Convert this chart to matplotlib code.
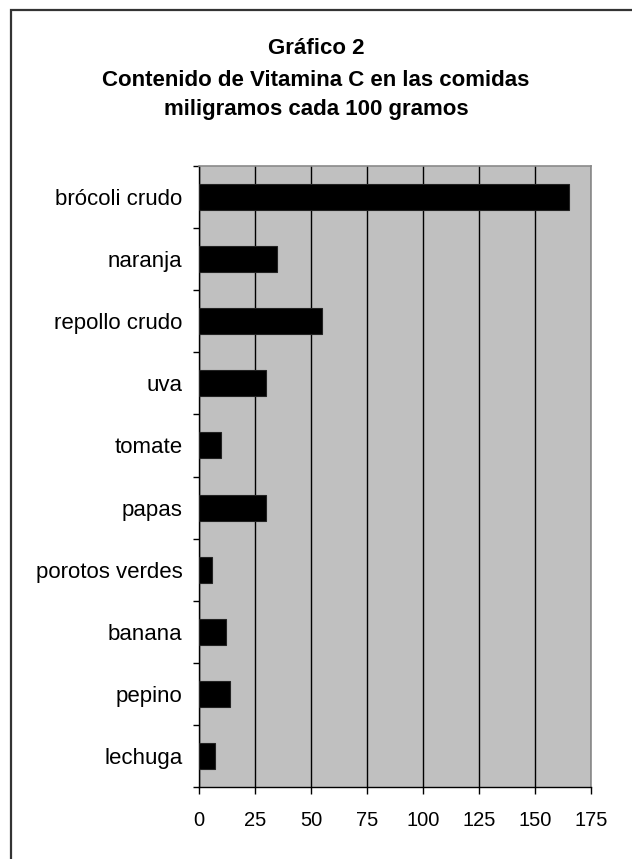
import matplotlib
matplotlib.use("Agg")
import matplotlib.pyplot as plt
from matplotlib.patches import Rectangle

# vitamina C (mg cada 100 g), de arriba hacia abajo
comidas = ["brócoli crudo", "naranja", "repollo crudo", "uva", "tomate",
           "papas", "porotos verdes", "banana", "pepino", "lechuga"]
vitamina_c = [165, 35, 55, 30, 10, 30, 6, 12, 14, 7]
ticks_x = [0, 25, 50, 75, 100, 125, 150, 175]

plt.rcParams['font.family'] = ['Liberation Sans', 'DejaVu Sans']

fig = plt.figure(figsize=(6.32, 8.59), dpi=100)
fig.patch.set_facecolor('white')

# marco del grafico
fig.patches.append(Rectangle((11/632, -0.1), 1.2, 1 - 10/859 + 0.1,
                             transform=fig.transFigure, fill=False,
                             edgecolor='#333333', linewidth=1.6))

ax = fig.add_axes([199/632, 1 - 787/859, 392/632, 621/859])
ax.set_facecolor('#C0C0C0')

pos = list(range(len(comidas)))
ax.barh(pos, vitamina_c, height=0.42, color='black', edgecolor='#222222',
        linewidth=0.8, zorder=3)

ax.set_xlim(0, 175)
ax.set_ylim(len(comidas) - 0.5, -0.5)
ax.set_xticks(ticks_x)
ax.set_xticklabels([str(t) for t in ticks_x], fontsize=14.5)
ax.set_yticks(pos)
ax.set_yticklabels(comidas, fontsize=16)
ax.tick_params(axis='y', length=0, pad=12)
ax.set_yticks([p + 0.5 for p in [-1] + pos], minor=True)
ax.tick_params(axis='y', which='minor', length=4, width=1, color='black')
ax.tick_params(axis='x', length=5, width=1, pad=12, direction='out')

ax.grid(axis='x', color='black', linewidth=1, zorder=1)
ax.set_axisbelow(True)

for s in ['top', 'right']:
    ax.spines[s].set_color('#8a8a8a')
    ax.spines[s].set_linewidth(1.2)
for s in ['left', 'bottom']:
    ax.spines[s].set_color('black')
    ax.spines[s].set_linewidth(1)

titulo = ["Gráfico 2",
          "Contenido de Vitamina C en las comidas",
          "miligramos cada 100 gramos"]
for y, linea in zip([49, 80, 110], titulo):
    fig.text(0.5, 1 - y/859, linea, ha='center', va='center',
             fontsize=16, fontweight='bold')

fig.savefig("out.png", dpi=100, facecolor='white')
